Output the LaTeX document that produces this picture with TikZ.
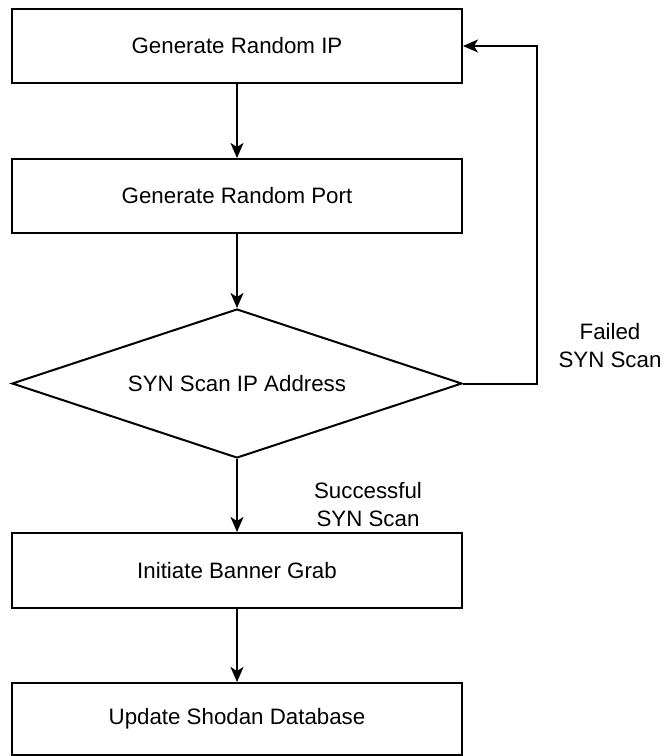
\documentclass[tikz,border=0pt]{standalone}
\usepackage{fontspec}
\setmainfont{Liberation Sans}
\usetikzlibrary{shapes.geometric,arrows.meta}
\begin{document}
\begin{tikzpicture}[x=1pt,y=-1pt,
  every node/.style={font=\fontsize{22.3}{28}\selectfont},
  procbox/.style={draw,line width=2pt,rectangle,minimum width=450pt,minimum height=74pt,inner sep=0pt},
  decbox/.style={draw,line width=2pt,diamond,minimum width=450pt,minimum height=149pt,inner sep=0pt,shape aspect=3},
  flow/.style={line width=2pt,-{Stealth[length=15pt,width=13pt,inset=4pt]}},
  lbl/.style={align=center,inner sep=0pt}]
\useasboundingbox (0,0) rectangle (665,756);
\node[procbox] (ip) at (237,46) {Generate Random IP};
\node[procbox] (port) at (237,196) {Generate Random Port};
\node[decbox] (syn) at (237,383.5) {SYN Scan IP Address};
\node[procbox,minimum height=75pt] (grab) at (237,570.5) {Initiate Banner Grab};
\node[procbox,minimum height=72pt] (db) at (237,719) {Update Shodan Database};
\coordinate (c1) at (537,383.5);
\coordinate (c2) at (537,46);
\draw[flow] (ip) -- (port);
\draw[flow] (port) -- (syn);
\draw[flow] (syn) -- (grab);
\draw[flow] (grab) -- (db);
\draw[flow] (syn.east) -- (c1) -- (c2) -- (ip.east);
\node[lbl] (fail) at (610,346) {Failed\\SYN Scan};
\node[lbl] (succ) at (368,505) {Successful\\SYN Scan};
\end{tikzpicture}
\end{document}
